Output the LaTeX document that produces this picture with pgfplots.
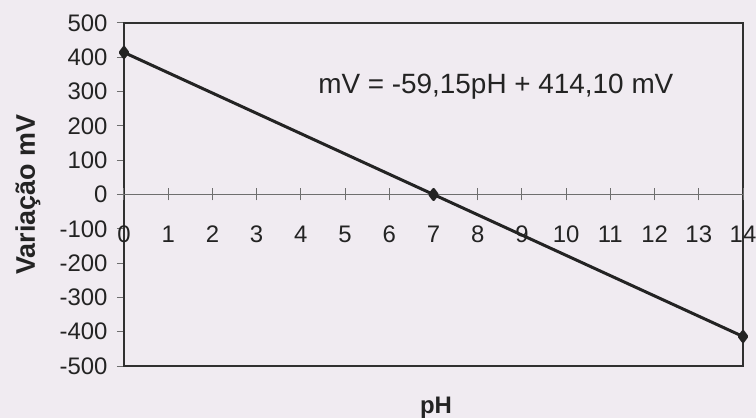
\documentclass[border=0pt]{standalone}
\usepackage{pgfplots}
\pgfplotsset{compat=1.18}
\usepackage{fontspec}
\setmainfont{Liberation Sans}
\definecolor{paper}{RGB}{240,235,241}
\definecolor{frame}{RGB}{48,48,48}
\definecolor{zeroline}{RGB}{110,110,110}
\definecolor{ink}{RGB}{35,35,35}
\begin{document}
\begin{tikzpicture}
\fill[paper] (-124bp,-52bp) rectangle (632bp,366bp);
\useasboundingbox (-124bp,-52bp) rectangle (632bp,366bp);
% frame with the mV scale
\begin{axis}[
  at={(0,0)}, anchor=south west,
  scale only axis, width=619bp, height=343bp,
  xmin=0, xmax=14, ymin=-500, ymax=500,
  axis line style={frame, line width=1.6bp},
  xtick=\empty,
  ytick={-500,-400,...,500},
  yticklabels={-500,-400,-300,-200,-100,0,100,200,300,400,500},
  ytick pos=left,
  tick align=outside, major tick length=7bp,
  ytick style={zeroline, line width=1bp},
  y tick label style={font=\fontsize{24}{26}\selectfont, text=ink, xshift=-6bp},
  clip=false,
]
\end{axis}
% pH scale on the zero line, with the calibration line
\begin{axis}[
  at={(0,0)}, anchor=south west,
  scale only axis, width=619bp, height=343bp,
  xmin=0, xmax=14, ymin=-500, ymax=500,
  axis x line=middle, axis y line=none,
  axis line style={zeroline, line width=1.2bp, -},
  x axis line style={-},
  xtick={0,...,14}, ytick=\empty,
  xticklabels={0,1,2,3,4,5,6,7,8,9,10,11,12,13,14},
  tick align=center, major tick length=12bp,
  xtick style={zeroline, line width=1bp},
  x tick label style={font=\fontsize{24}{26}\selectfont, text=ink, anchor=center, yshift=-34bp},
  clip=false,
]
\addplot[ink, line width=3bp, line join=round, mark=diamond*, mark size=5bp,
  mark options={solid, fill=ink}]
  coordinates {(0,414.1) (7,0) (14,-414)};
\node[font=\fontsize{28}{32}\selectfont, text=ink] at (axis cs:8.41,315) {mV = -59,15pH + 414,10 mV};
\end{axis}
\node[rotate=90, font=\fontsize{27}{30}\selectfont\bfseries, text=ink] at (-96bp,171.5bp) {Variação mV};
\node[anchor=base, font=\fontsize{24}{28}\selectfont\bfseries, text=ink] at (312bp,-47bp) {pH};
\end{tikzpicture}
\end{document}
